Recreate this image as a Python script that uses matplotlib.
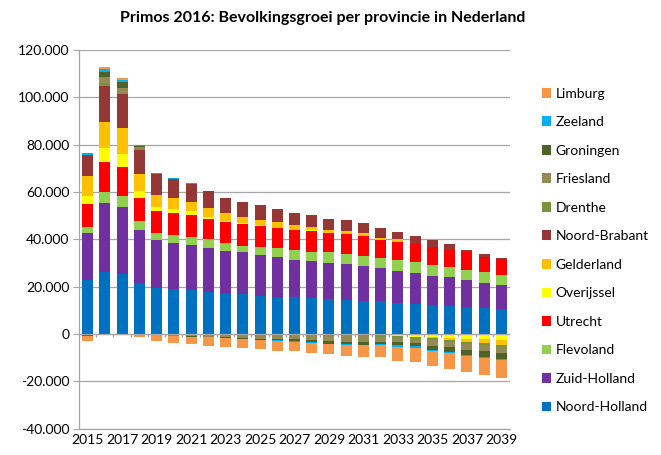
import numpy as np
import matplotlib
matplotlib.use("Agg")
import matplotlib.pyplot as plt
from matplotlib.ticker import FuncFormatter, MultipleLocator
from matplotlib.patches import Patch

plt.rcParams['font.family'] = ['Lato', 'DejaVu Sans']

years = list(range(2015, 2040))

# values in thousands of persons (signed)
noord_holland = [22.8, 26.3, 25.4, 21.3, 19.3, 18.9, 18.6, 17.9, 17.2, 16.9, 16.2, 15.6, 15.4,
                 15.1, 14.8, 14.5, 13.9, 13.9, 13.1, 12.8, 12.1, 11.8, 11.4, 11.0, 10.4]
zuid_holland = [20.0, 29.1, 28.4, 22.4, 20.2, 19.4, 19.0, 18.6, 17.9, 17.5, 17.2, 16.7, 16.0,
                15.6, 15.2, 15.0, 14.7, 13.8, 13.5, 13.1, 12.4, 12.2, 11.4, 10.7, 10.2]
flevoland = [2.3, 4.4, 4.4, 4.1, 3.3, 3.4, 3.5, 3.5, 3.5, 2.9, 3.5, 3.8, 4.1,
             4.1, 4.4, 4.3, 4.5, 4.2, 4.7, 4.5, 4.5, 4.2, 4.4, 4.4, 4.1]
utrecht = [10.0, 12.8, 12.5, 9.8, 9.3, 9.2, 9.1, 8.6, 8.9, 9.1, 8.8, 8.6, 8.2,
           8.7, 8.4, 8.5, 8.1, 7.9, 7.7, 7.4, 7.8, 7.4, 7.2, 6.6, 7.0]
overijssel = [3.3, 5.8, 5.5, 2.9, 1.5, 2.0, 1.7, 0.7, 0.4, 0.4, 0.3, 0.2, 0.2,
              0.2, -0.2, -0.2, -0.3, -0.5, -0.8, -1.3, -1.4, -1.7, -2.0, -2.3, -2.5]
gelderland = [8.2, 11.2, 10.9, 7.0, 5.3, 4.4, 3.9, 4.1, 3.1, 2.8, 2.2, 2.5, 2.0,
              1.5, 1.1, 1.2, 1.5, 0.8, 0.9, 0.4, -0.5, -0.85, -1.4, -1.7, -2.3]
noord_brabant = [9.2, 15.0, 14.1, 10.3, 8.5, 8.0, 7.6, 6.8, 6.6, 6.2, 6.1, 5.3, 5.3,
                 5.0, 4.7, 4.6, 4.2, 4.1, 3.2, 3.2, 2.9, 2.3, 1.1, 1.0, 0.4]
drenthe = [-0.2, 1.4, 0.8, 0.4, -0.1, -0.2, -0.3, -0.3, -0.3, -0.4, -0.4, -0.4, -0.5,
           -0.5, -0.6, -0.6, -0.7, -0.7, -0.8, -0.85, -0.85, -0.85, -0.85, -0.85, -0.85]
friesland = [-0.4, 2.4, 1.9, 0.6, -0.5, -0.6, -0.8, -1.0, -1.2, -1.3, -1.6, -1.8, -1.5,
             -2.0, -2.2, -2.5, -2.4, -2.1, -1.9, -1.7, -2.3, -2.3, -2.5, -2.6, -2.6]
groningen = [-0.1, 2.1, 2.4, 0.6, 0.0, 0.0, -0.1, -0.2, -0.4, -0.6, -0.6, -0.6, -1.0,
             -0.85, -1.1, -1.1, -1.1, -0.9, -1.4, -1.4, -1.7, -2.0, -2.0, -2.3, -2.3]
zeeland = [0.5, 1.3, 1.1, 0.4, 0.4, 0.4, 0.4, 0.0, 0.0, 0.0, -0.1, -0.2, -0.5,
           -0.5, -0.3, -0.3, -0.4, -0.5, -0.56, -0.56, -0.56, -0.56, -0.56, -0.56, -0.56]
limburg = [-2.2, 1.1, 0.8, -1.2, -2.5, -3.0, -3.1, -3.5, -3.7, -3.6, -3.9, -4.2, -3.7,
           -4.1, -3.9, -4.7, -4.9, -5.0, -5.8, -6.0, -6.1, -6.4, -6.8, -6.9, -7.5]

series_names = ["Noord-Holland", "Zuid-Holland", "Flevoland", "Utrecht", "Overijssel",
                "Gelderland", "Noord-Brabant", "Drenthe", "Friesland", "Groningen",
                "Zeeland", "Limburg"]
series_values = [noord_holland, zuid_holland, flevoland, utrecht, overijssel, gelderland,
                 noord_brabant, drenthe, friesland, groningen, zeeland, limburg]
colors = ["#0070C0", "#7030A0", "#92D050", "#FF0000", "#FFFF00", "#FFC000",
          "#953735", "#77933C", "#948A54", "#4F6228", "#00B0F0", "#F79646"]

fig = plt.figure(figsize=(6.61, 4.55), dpi=100)
ax = fig.add_axes([79/661, 1 - 428.5/455, (510-79)/661, (428.5-50)/455])

x = np.arange(len(years))
pos_bottom = np.zeros(len(years))
neg_bottom = np.zeros(len(years))
for name, vals, c in zip(series_names, series_values, colors):
    v = np.array(vals) * 1000.0
    pos = np.where(v > 0, v, 0)
    neg = np.where(v < 0, v, 0)
    ax.bar(x, pos, bottom=pos_bottom, width=0.64, color=c, linewidth=0, zorder=3)
    ax.bar(x, neg, bottom=neg_bottom, width=0.64, color=c, linewidth=0, zorder=3)
    pos_bottom += pos
    neg_bottom += neg

grid_c = "#A6A6A6"
ax.set_ylim(-40000, 120000)
ax.set_xlim(-0.5, len(years) - 0.5)
ax.yaxis.set_major_locator(MultipleLocator(20000))
ax.yaxis.set_major_formatter(FuncFormatter(lambda v, p: f"{int(round(v)):,}".replace(",", ".")))
ax.grid(axis='y', color=grid_c, linewidth=0.9, zorder=0)
ax.set_axisbelow(True)

for s in ['top', 'right']:
    ax.spines[s].set_visible(False)
ax.spines['left'].set_color(grid_c)
ax.spines['bottom'].set_color(grid_c)
ax.spines['left'].set_linewidth(0.9)
ax.spines['bottom'].set_linewidth(0.9)

ax.tick_params(axis='y', length=4, color=grid_c, labelsize=10, labelcolor="#000000", pad=3)
ax.set_xticks(x[::2])
ax.set_xticklabels([str(y) for y in years[::2]])
ax.tick_params(axis='x', length=0, labelsize=10, pad=4)

# zero axis line with category boundary tick marks
ax.axhline(0, color=grid_c, linewidth=0.9, zorder=4)
bounds = np.arange(len(years) + 1) - 0.5
ax.vlines(bounds, -1300, 0, color=grid_c, linewidth=0.9, zorder=4)

fig.text(323/661, 1 - 18/455, "Primos 2016: Bevolkingsgroei per provincie in Nederland",
         ha='center', va='center', fontsize=11.5, fontweight='bold')

handles = [Patch(facecolor=c, edgecolor='none') for c in colors][::-1]
labels = series_names[::-1]
leg = fig.legend(handles, labels, loc='upper left', bbox_to_anchor=(536/661, 1 - 82/455),
                 frameon=False, fontsize=10, handlelength=0.7, handleheight=0.7,
                 handletextpad=0.3, labelspacing=1.19, borderaxespad=0)

fig.savefig("out.png", dpi=100)
